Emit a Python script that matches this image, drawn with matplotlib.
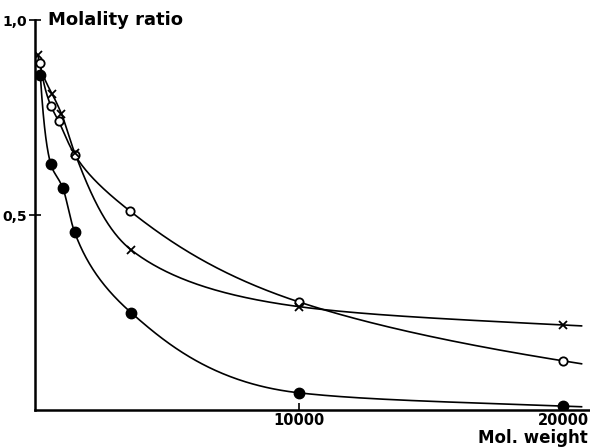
import numpy as np
import matplotlib.pyplot as plt

# values (mol. weight vs molality ratio)
mw_open = [200, 600, 900, 1500, 3600, 10000, 20000]
ratio_open = [0.89, 0.78, 0.74, 0.655, 0.51, 0.277, 0.126]

mw_cross = [110, 650, 1000, 1500, 3650, 10000, 20000]
ratio_cross = [0.91, 0.81, 0.76, 0.66, 0.41, 0.265, 0.218]

mw_filled = [200, 600, 1050, 1500, 3650, 10000, 20000]
ratio_filled = [0.86, 0.63, 0.57, 0.456, 0.249, 0.044, 0.01]

x_ticks = [10000, 20000]
x_ticklabels = ["10000", "20000"]
y_ticks = [0.5, 1.0]
y_ticklabels = ["0,5", "1,0"]


def smooth(x, y, x_end, n=600):
    # monotone cubic (pchip) through the read points, in log(x), drawn as a smooth line
    x = np.asarray(x, float)
    y = np.asarray(y, float)
    u = np.log(x)
    h = np.diff(u)
    d = np.diff(y) / h
    m = np.zeros_like(y)
    m[0], m[-1] = d[0], d[-1]
    for k in range(1, len(u) - 1):
        if d[k - 1] * d[k] > 0:
            w1 = 2 * h[k] + h[k - 1]
            w2 = h[k] + 2 * h[k - 1]
            m[k] = (w1 + w2) / (w1 / d[k - 1] + w2 / d[k])
    us = np.linspace(u[0], np.log(x_end), n)
    i = np.clip(np.searchsorted(u, us) - 1, 0, len(h) - 1)
    t = (us - u[i]) / h[i]
    h00 = 2 * t**3 - 3 * t**2 + 1
    h10 = t**3 - 2 * t**2 + t
    h01 = -2 * t**3 + 3 * t**2
    h11 = t**3 - t**2
    ys = h00 * y[i] + h10 * h[i] * m[i] + h01 * y[i + 1] + h11 * h[i] * m[i + 1]
    tail = us > u[-1]
    ys[tail] = y[-1] + m[-1] * (us[tail] - u[-1])
    return np.exp(us), ys


fig = plt.figure(figsize=(5.9, 4.48), dpi=100)
ax = fig.add_axes([35 / 590, 38 / 448, 555 / 590, 390 / 448])

for xv, yv in [(mw_open, ratio_open), (mw_cross, ratio_cross), (mw_filled, ratio_filled)]:
    xs, ys = smooth(xv, yv, 20700)
    ax.plot(xs, ys, color="black", linewidth=1.2, zorder=2)

ax.plot(mw_open, ratio_open, linestyle="none", marker="o", markersize=6,
        markerfacecolor="white", markeredgecolor="black", markeredgewidth=1.3, zorder=3)
ax.plot(mw_cross, ratio_cross, linestyle="none", marker="x", markersize=6,
        color="black", markeredgewidth=1.3, zorder=3)
ax.plot(mw_filled, ratio_filled, linestyle="none", marker="o", markersize=7.5,
        color="black", zorder=3)

ax.set_xlim(0, 21020)
ax.set_ylim(0, 1.0)
ax.spines["top"].set_visible(False)
ax.spines["right"].set_visible(False)
ax.spines["left"].set_linewidth(1.8)
ax.spines["bottom"].set_linewidth(1.8)

ax.set_xticks(x_ticks)
ax.set_xticklabels(x_ticklabels, fontsize=10.5, fontweight="bold")
ax.tick_params(axis="x", direction="in", length=5, width=1.2, pad=2)
ax.set_yticks(y_ticks)
ax.set_yticklabels(y_ticklabels, fontsize=10, fontweight="bold")
ax.tick_params(axis="y", direction="inout", length=8, width=1.2, pad=2)

fig.text(48 / 590, 1 - 20 / 448, "Molality ratio", fontsize=13, fontweight="bold",
         ha="left", va="center")
fig.text(588 / 590, 1 - 438 / 448, "Mol. weight", fontsize=12, fontweight="bold",
         ha="right", va="center")

fig.savefig("out.png", dpi=100)
